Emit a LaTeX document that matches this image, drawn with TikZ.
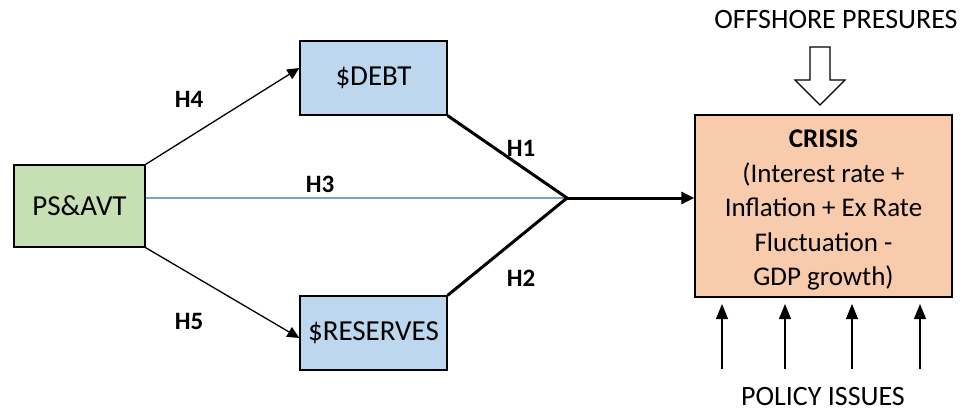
\documentclass[tikz,border=0pt]{standalone}
\usepackage{fontspec}
\setmainfont{Carlito}
\usetikzlibrary{arrows.meta}
\definecolor{boxgreen}{RGB}{198,224,180}
\definecolor{boxblue}{RGB}{189,215,238}
\definecolor{boxorange}{RGB}{248,203,173}
\definecolor{lineblue}{RGB}{120,160,210}
\tikzset{
  varbox/.style={draw, line width=1.3pt, inner sep=0pt, font=\fontsize{29}{34}\selectfont},
  hyp/.style={font=\bfseries\fontsize{25}{30}\selectfont},
  plain/.style={font=\fontsize{28}{32}\selectfont}
}
\begin{document}
\begin{tikzpicture}[x=1pt,y=-1pt]
\useasboundingbox (0,0) rectangle (970,412);
% boxes
\node[varbox, fill=boxgreen, minimum width=131pt, minimum height=82pt] (psavt) at (79.5,206) {PS\&AVT};
\node[varbox, fill=boxblue, minimum width=147pt, minimum height=74pt] (debt) at (373.5,78) {\$DEBT};
\node[varbox, fill=boxblue, minimum width=147pt, minimum height=74pt] (reserves) at (373.5,333) {\$RESERVES};
\node[varbox, fill=boxorange, minimum width=257pt, minimum height=182pt] (crisis) at (823.5,206) {};
\node[align=center, font=\fontsize{27}{34.5}\selectfont] (crisistext) at (823.5,210)
  {\textbf{CRISIS}\\(Interest rate +\\Inflation + Ex Rate\\Fluctuation -\\GDP growth)};
\coordinate (junction) at (567,198);
% paths
\draw[line width=1.3pt, -{Triangle[length=12pt,width=11pt]}] (psavt.north east) -- (debt.west |- 0,68);
\draw[line width=1.3pt, -{Triangle[length=12pt,width=11pt]}] (psavt.south east) -- (reserves.west |- 0,338);
\draw[lineblue, line width=1.3pt] (psavt.east |- junction) -- (junction);
\draw[line width=3pt, line join=miter] (debt.south east) -- (junction) -- (reserves.north east);
\draw[line width=3pt, -{Triangle[length=13pt,width=12pt]}] (junction) -- (crisis.west |- junction);
% labels
\node[hyp] (h4) at (189,99) {H4};
\node[hyp] (h3) at (320,184) {H3};
\node[hyp] (h5) at (189,321) {H5};
\node[hyp] (h1) at (521,148) {H1};
\node[hyp] (h2) at (521,278) {H2};
% offshore pressures
\node[plain] (offshore) at (836,20) {OFFSHORE PRESURES};
\draw[line width=1.1pt, fill=white] (810,47) -- (830,47) -- (830,80) -- (845,80) -- (820,105)
  -- (795,80) -- (810,80) -- cycle;
% policy issues
\node[plain] (policy) at (823,397) {POLICY ISSUES};
\foreach \px [count=\i] in {722,785,852,920}{
  \coordinate (pol\i) at (\px,369);
  \draw[line width=1.1pt, -{Triangle[length=15pt,width=12pt]}] (pol\i) -- (\px,304);
}
\end{tikzpicture}
\end{document}
